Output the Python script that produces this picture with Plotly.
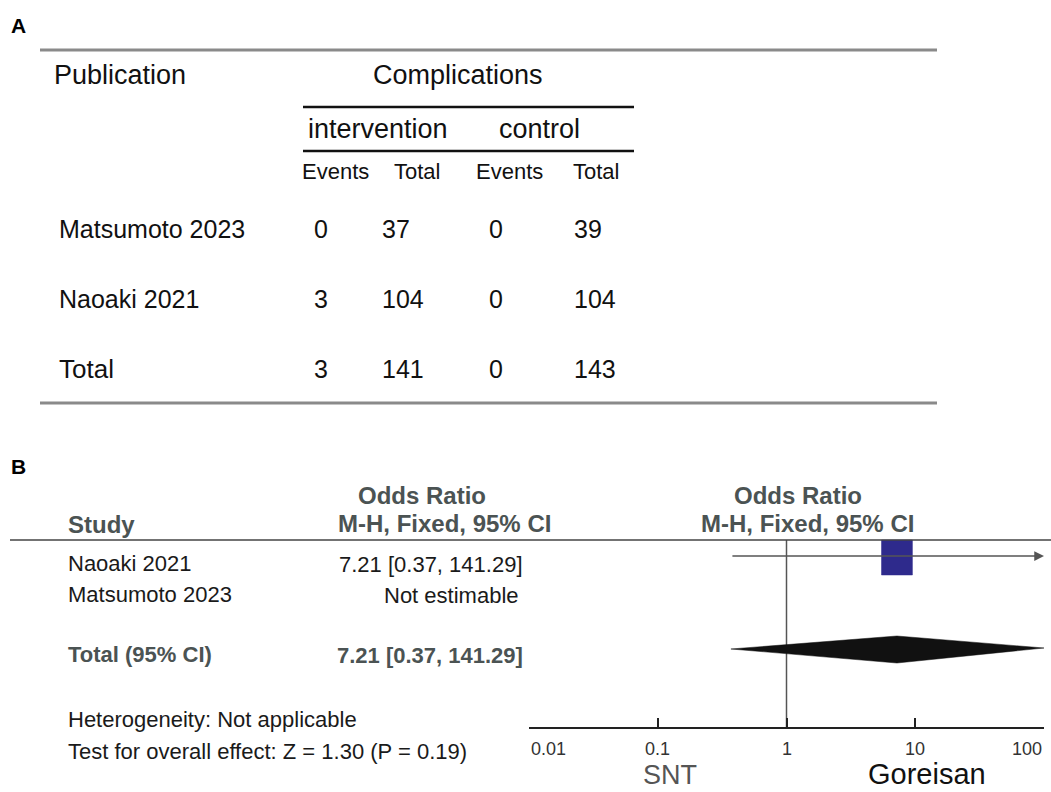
import math
import plotly.graph_objects as go

W, H = 1051, 792

# ---------------- data ----------------
pub_names = ["Matsumoto 2023", "Naoaki 2021", "Total"]
int_events = [0, 3, 3]
int_total = [37, 104, 141]
ctl_events = [0, 0, 0]
ctl_total = [39, 104, 143]

studies = ["Naoaki 2021", "Matsumoto 2023"]
study_or = [7.21, None]
study_lo = [0.37, None]
study_hi = [141.29, None]
study_txt = ["7.21 [0.37, 141.29]", "Not estimable"]

total_or = 7.21
total_lo = 0.37
total_hi = 141.29
total_txt = "7.21 [0.37, 141.29]"

tick_vals = [0.01, 0.1, 1, 10, 100]
tick_text = ["0.01", "0.1", "1", "10", "100"]
heterogeneity = "Heterogeneity: Not applicable"
overall = "Test for overall effect: Z = 1.30 (P = 0.19)"
left_label = "SNT"
right_label = "Goreisan"

# ---------------- helpers ----------------
FONT = "Liberation Sans, Arial, sans-serif"
HDR = "#4b5353"


def px(x):
    return x / W


def py(y):
    return (H - y) / H


ann = []


def text(x, y, s, size, color="#111", anchor="left", bold=False, vanchor="middle"):
    ann.append(dict(
        x=px(x), y=py(y), xref="paper", yref="paper", text=("<b>%s</b>" % s) if bold else s,
        showarrow=False, xanchor=anchor, yanchor=vanchor,
        font=dict(family=FONT, size=size, color=color)))


shapes = []


def hline(x0, x1, y, color, width):
    shapes.append(dict(type="line", xref="paper", yref="paper", x0=px(x0), x1=px(x1),
                       y0=py(y), y1=py(y), line=dict(color=color, width=width)))


# ---------------- panel A (table) ----------------
text(18, 25, "A", 21, "#000", "center", True)
hline(40, 937, 50, "#8a8a8a", 3)
text(52, 75, "Publication", 27, "#111", "left")
text(458, 75, "Complications", 27, "#111", "center")
hline(303, 634, 107, "#111", 2.5)
text(378, 129, "intervention", 27, "#111", "center")
text(539, 129, "control", 27, "#111", "center")
hline(303, 634, 151, "#111", 2.5)
for cx, s in zip([335, 417, 509, 596], ["Events", "Total", "Events", "Total"]):
    text(cx, 172, s, 22, "#111", "center")
row_y = [229, 299, 369]
for i, name in enumerate(pub_names):
    y = row_y[i]
    text(57, y, name, 25 if name != "Total" else 26, "#111", "left")
    text(321, y, str(int_events[i]), 25, "#111", "center")
    text(380, y, str(int_total[i]), 25, "#111", "left")
    text(496, y, str(ctl_events[i]), 25, "#111", "center")
    text(572, y, str(ctl_total[i]), 25, "#111", "left")
hline(40, 937, 403, "#8a8a8a", 3)

# ---------------- panel B (forest) ----------------
text(18, 466, "B", 21, "#000", "center", True)
text(66, 524, "Study", 24, HDR, "left", True)
text(422, 495, "Odds Ratio", 24, HDR, "center", True)
text(444, 523, "M-H, Fixed, 95% CI", 24, HDR, "center", True)
text(798, 495, "Odds Ratio", 24, HDR, "center", True)
text(807, 523, "M-H, Fixed, 95% CI", 24, HDR, "center", True)
hline(10, 1051, 540, "#444", 1.5)

study_y = [563, 594]
for i, s in enumerate(studies):
    text(66, study_y[i], s, 22, "#1a1a1a", "left")
    text(525 if study_or[i] is not None else 521, study_y[i] + 1, study_txt[i], 22, "#1a1a1a", "right")
total_y = 650
text(66, total_y + 4, "Total (95% CI)", 22, HDR, "left", True)
text(525, total_y + 5, total_txt, 22, HDR, "right", True)
text(66, 719, heterogeneity, 22, "#1a1a1a", "left")
text(66, 751, overall, 22, "#1a1a1a", "left")
text(670, 792, left_label, 27, "#555", "center", vanchor="bottom")
text(927, 792, right_label, 29, "#111", "center", vanchor="bottom")

AX_MIN, AX_MAX = tick_vals[0], tick_vals[-1]
AX_Y = 727  # axis baseline position (px)

# tick labels: first left-aligned, last right-aligned, others centred
for i, (tv, tt) in enumerate(zip(tick_vals, tick_text)):
    anc = "left" if i == 0 else ("right" if i == len(tick_vals) - 1 else "center")
    ann.append(dict(x=math.log10(tv), y=py(749), xref="x", yref="paper", text=tt,
                    showarrow=False, xanchor=anc, yanchor="middle",
                    font=dict(family=FONT, size=18, color="#333")))

fig = go.Figure()

# line of no effect
fig.add_trace(go.Scatter(x=[1, 1], y=[540, AX_Y], mode="lines",
                         line=dict(color="#555", width=1.5), xaxis="x", yaxis="y",
                         hoverinfo="skip", showlegend=False))

sq_half = 0.12  # half width of the weight square in log10 units
for i, s in enumerate(studies):
    if study_or[i] is None:
        continue
    y = study_y[i] - 7
    lo = max(study_lo[i], AX_MIN)
    hi = min(study_hi[i], AX_MAX)
    if study_hi[i] > AX_MAX:
        ann.append(dict(x=math.log10(hi), y=y, ax=math.log10(lo), ay=y,
                        xref="x", yref="y", axref="x", ayref="y", text="",
                        showarrow=True, arrowhead=2, arrowsize=1.3, arrowwidth=1.5,
                        arrowcolor="#555"))
    else:
        fig.add_trace(go.Scatter(x=[lo, hi], y=[y, y], mode="lines",
                                 line=dict(color="#555", width=1.5), showlegend=False))
    o = study_or[i]
    a, b = o * 10 ** (-sq_half), o * 10 ** sq_half
    fig.add_trace(go.Scatter(x=[a, b, b, a, a], y=[540, 540, 575, 575, 540],
                             mode="lines", fill="toself", fillcolor="#2e2a8c",
                             line=dict(color="#2e2a8c", width=0.5), showlegend=False,
                             hoverinfo="skip"))

# pooled diamond
d_lo = max(total_lo, AX_MIN)
d_hi = min(total_hi, AX_MAX)
fig.add_trace(go.Scatter(x=[d_lo, total_or, d_hi, total_or, d_lo],
                         y=[total_y - 1, total_y - 14, total_y - 2, total_y + 13, total_y - 1],
                         mode="lines", fill="toself", fillcolor="#111",
                         line=dict(color="#111", width=0.5), showlegend=False,
                         hoverinfo="skip"))

fig.update_layout(
    width=W, height=H,
    margin=dict(l=0, r=0, t=0, b=0, pad=0),
    paper_bgcolor="white", plot_bgcolor="rgba(0,0,0,0)",
    showlegend=False,
    xaxis=dict(type="log", domain=[529 / W, 1044 / W], range=[math.log10(AX_MIN), math.log10(AX_MAX)],
               anchor="y", showline=True, linecolor="#222", linewidth=1.5,
               ticks="inside", ticklen=9, tickwidth=1.5, tickcolor="#222",
               tickvals=tick_vals, showticklabels=False, showgrid=False, zeroline=False,
               automargin=False, fixedrange=True),
    yaxis=dict(domain=[(H - AX_Y) / H, 1], range=[AX_Y, 0], visible=False,
               showgrid=False, zeroline=False, automargin=False, fixedrange=True),
    annotations=ann,
    shapes=shapes,
)

fig.write_html("out.html", config={"displayModeBar": False},
               post_script="document.body.style.margin='0';document.body.style.overflow='hidden';")
